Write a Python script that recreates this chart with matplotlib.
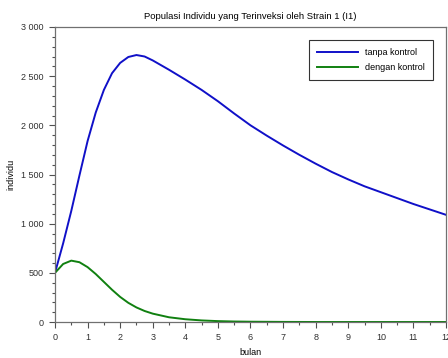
import matplotlib
matplotlib.use('Agg')
import matplotlib.pyplot as plt
from matplotlib.ticker import FuncFormatter, MultipleLocator

# values
t_tanpa = [0, 0.25, 0.5, 0.75, 1.0, 1.25, 1.5, 1.75, 2.0, 2.25, 2.5, 2.75, 3.0,
           3.5, 4.0, 4.5, 5.0, 5.5, 6.0, 6.5, 7.0, 7.5, 8.0, 8.5, 9.0, 9.5,
           10.0, 10.5, 11.0, 11.5, 12.0]
i1_tanpa = [500, 800, 1130, 1490, 1840, 2130, 2360, 2530, 2635, 2695, 2715, 2700, 2660,
            2565, 2465, 2360, 2245, 2120, 2000, 1895, 1795, 1700, 1610, 1525, 1450, 1380,
            1320, 1260, 1200, 1145, 1090]

t_dengan = [0, 0.25, 0.5, 0.75, 1.0, 1.25, 1.5, 1.75, 2.0, 2.25, 2.5, 2.75, 3.0,
            3.5, 4.0, 4.5, 5.0, 5.5, 6.0, 7.0, 8.0, 9.0, 10.0, 11.0, 12.0]
i1_dengan = [500, 590, 624, 608, 558, 488, 408, 328, 255, 195, 148, 112, 85,
             48, 28, 16, 9, 5, 3, 1, 0, 0, 0, 0, 0]

plt.rcParams['font.family'] = 'Liberation Sans'

fig = plt.figure(figsize=(4.48, 3.58), dpi=100)
ax = fig.add_axes([55 / 448, 36 / 358, 391 / 448, 295 / 358])

ax.plot(t_tanpa, i1_tanpa, color='#1010c8', lw=1.4, label='tanpa kontrol')
ax.plot(t_dengan, i1_dengan, color='#108010', lw=1.4, label='dengan kontrol')

ax.set_xlim(0, 12)
ax.set_ylim(0, 3000)
ax.xaxis.set_major_locator(MultipleLocator(1))
ax.xaxis.set_minor_locator(MultipleLocator(0.5))
ax.yaxis.set_major_locator(MultipleLocator(500))
ax.yaxis.set_minor_locator(MultipleLocator(100))
ax.yaxis.set_major_formatter(FuncFormatter(lambda v, p: f'{int(v):,}'.replace(',', ' ')))

for s in ax.spines.values():
    s.set_color('#707070')
    s.set_linewidth(0.9)
ax.tick_params(which='major', direction='out', length=4, width=0.8, color='#505050',
               labelsize=6.5, labelcolor='#303030', pad=4)
ax.tick_params(which='minor', direction='out', length=2.5, width=0.8, color='#505050')

ax.set_title('Populasi Individu yang Terinveksi oleh Strain 1 (I1)', fontsize=6.8, pad=6)
ax.set_xlabel('bulan', fontsize=6.5, labelpad=4)
ax.set_ylabel('individu', fontsize=6.5, labelpad=4)

leg = ax.legend(loc='upper right', fontsize=6.5, frameon=True, fancybox=False,
                edgecolor='black', handlelength=4.5, borderpad=0.9,
                labelspacing=0.6, bbox_to_anchor=(0.978, 0.97))
leg.get_frame().set_linewidth(0.8)

fig.savefig('out.png', dpi=100)
